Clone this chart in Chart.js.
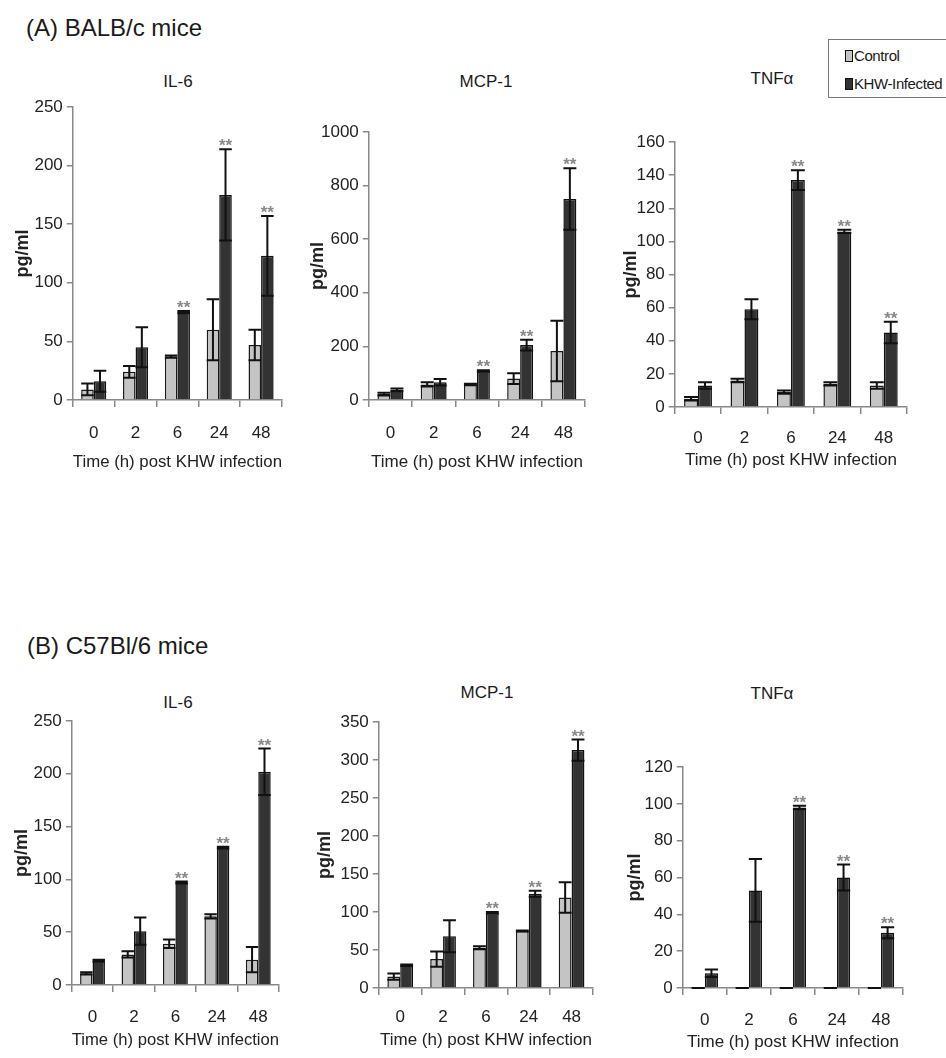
<!DOCTYPE html>
<html>
<head>
<meta charset="utf-8">
<script src="https://cdn.jsdelivr.net/npm/chart.js"></script>
<style>
  body { margin: 0; width: 946px; height: 1058px; position: relative; overflow: hidden; background: #fff; color: #1a1a1a;
         font-family: 'Liberation Sans Narrow', 'Arial Narrow', 'Liberation Sans', Arial, sans-serif; }
  canvas { position: absolute; }
  .head { position: absolute; font-family: 'Liberation Sans', Arial, sans-serif; font-size: 24px; transform: translateY(-50%); white-space: nowrap; }
  .ttl { position: absolute; font-size: 17px; transform: translate(-50%, -50%); white-space: nowrap; }
  #legend { position: absolute; left: 828px; top: 39px; width: 130px; height: 59px; border: 1px solid #777; box-sizing: border-box; font-size: 15px; letter-spacing: -0.4px; }
  #legend div { position: absolute; left: 16px; white-space: nowrap; line-height: 16px; }
  #legend span { display: inline-block; width: 6px; height: 10px; border: 1px solid #111; margin-right: 1px; vertical-align: -1px; }
</style>
</head>
<body>
<div class="head" style="left:26px;top:28px">(A) BALB/c mice</div>
<div class="head" style="left:27px;top:646px">(B) C57Bl/6 mice</div>

<div class="ttl" style="left:178px;top:82px">IL-6</div>
<div class="ttl" style="left:486px;top:82px">MCP-1</div>
<div class="ttl" style="left:772px;top:79px">TNFα</div>
<div class="ttl" style="left:178px;top:703px">IL-6</div>
<div class="ttl" style="left:487px;top:693px">MCP-1</div>
<div class="ttl" style="left:772px;top:694px">TNFα</div>

<div id="legend">
  <div style="top:8px"><span style="background:#c4c4c4"></span>Control</div>
  <div style="top:36px"><span style="background:#333"></span>KHW-Infected</div>
</div>

<script>
const times = ['0', '2', '6', '24', '48'];

// (A) BALB/c mice
const balbIl6Ctrl = [9, 24, 37, 60, 47];
const balbIl6CtrlErr = [5, 5, 1, 26, 13];
const balbIl6Khw = [16, 45, 75, 175, 123];
const balbIl6KhwErr = [9, 17, 1, 39, 34];

const balbMcpCtrl = [22, 58, 58, 80, 183];
const balbMcpCtrlErr = [5, 8, 3, 20, 113];
const balbMcpKhw = [38, 66, 108, 205, 750];
const balbMcpKhwErr = [5, 12, 3, 20, 115];

const balbTnfCtrl = [5, 16, 9, 14, 13];
const balbTnfCtrlErr = [1, 1, 1, 1, 2];
const balbTnfKhw = [13, 59, 137, 106, 45];
const balbTnfKhwErr = [2, 6, 6, 1, 6.5];

// (B) C57Bl/6 mice
const c57Il6Ctrl = [11, 29, 39, 65, 24];
const c57Il6CtrlErr = [1, 3, 4, 2, 12];
const c57Il6Khw = [23, 51, 97, 130, 202];
const c57Il6KhwErr = [1, 13, 1, 1, 22];

const c57McpCtrl = [15, 38, 53, 75, 119];
const c57McpCtrlErr = [4, 10, 2, 0.5, 20];
const c57McpKhw = [30, 68, 99, 124, 313];
const c57McpKhwErr = [1, 21, 1, 4, 14];

const c57TnfCtrl = [0, 0, 0, 0, 0];
const c57TnfCtrlErr = [0, 0, 0, 0, 0];
const c57TnfKhw = [8, 53, 98, 60, 30];
const c57TnfKhwErr = [2, 17, 1, 7, 3];

// ** = significant vs control
const significant = [0, 0, 1, 1, 1];

const yMax = { il6: 250, mcpA: 1000, tnfA: 160, mcpB: 350, tnfB: 120 };
const yStep = { il6: 50, mcpA: 200, tnfA: 20, mcpB: 50, tnfB: 20 };

const FONT = "'Liberation Sans Narrow', 'Arial Narrow', 'Liberation Sans', Arial, sans-serif";

// draws mean ± SD whiskers and the ** marks
const errorBars = {
  id: 'errorBars',
  afterDatasetsDraw(chart) {
    const ctx = chart.ctx;
    const y = chart.scales.y;
    ctx.save();
    chart.data.datasets.forEach((ds, i) => {
      chart.getDatasetMeta(i).data.forEach((bar, j) => {
        const v = ds.data[j], e = ds.errors[j];
        const hi = y.getPixelForValue(v + e);
        const lo = y.getPixelForValue(Math.max(0, v - e));
        const hw = bar.width / 2;
        ctx.strokeStyle = '#111';
        ctx.lineWidth = 2;
        ctx.beginPath();
        ctx.moveTo(bar.x, hi); ctx.lineTo(bar.x, lo);
        ctx.moveTo(bar.x - hw, hi); ctx.lineTo(bar.x + hw, hi);
        ctx.moveTo(bar.x - hw, lo); ctx.lineTo(bar.x + hw, lo);
        ctx.stroke();
        if (ds.sig && ds.sig[j]) {
          ctx.fillStyle = '#888';
          ctx.font = "bold 17px 'Liberation Sans', Arial, sans-serif";
          ctx.textAlign = 'center';
          ctx.textBaseline = 'bottom';
          ctx.fillText('**', bar.x, hi + 6);
        }
      });
    });
    ctx.restore();
  }
};

function makeChart(p) {
  const b = p.box;
  const left = b.yTitle - 10.8;
  const top = b.top - 20;
  const xH = b.xTitle - b.bottom + 11;
  const c = document.createElement('canvas');
  c.width = Math.round(b.right + 12 - left);
  c.height = Math.round(b.bottom + xH - top);
  c.style.left = left + 'px';
  c.style.top = top + 'px';
  document.body.appendChild(c);

  new Chart(c, {
    type: 'bar',
    data: {
      labels: times,
      datasets: [
        { label: 'Control', data: p.ctrl, errors: p.ctrlErr, backgroundColor: '#c4c4c4',
          borderColor: '#1a1a1a', borderWidth: 1.5, categoryPercentage: 0.6, barPercentage: 1 },
        { label: 'KHW-Infected', data: p.khw, errors: p.khwErr, sig: significant, backgroundColor: '#333',
          borderColor: '#111', borderWidth: 1.5, categoryPercentage: 0.6, barPercentage: 1 }
      ]
    },
    options: {
      responsive: false,
      animation: false,
      layout: { padding: { top: 20, right: 12, left: 0, bottom: 0 } },
      plugins: { legend: { display: false }, tooltip: { enabled: false } },
      scales: {
        x: {
          grid: { drawOnChartArea: false, color: '#888', lineWidth: 1.5, tickLength: 7, offset: true },
          border: { color: '#888', width: 1.5 },
          ticks: { font: { family: FONT, size: 17 }, color: '#222', padding: b.xTick - b.bottom - 17 },
          title: { display: true, text: 'Time (h) post KHW infection', font: { family: FONT, size: 17 },
                   color: '#222', padding: 0 },
          afterFit: s => { s.height = xH; }
        },
        y: {
          min: 0, max: p.max,
          ticks: { stepSize: p.step, font: { family: FONT, size: 17 }, color: '#222', padding: 4,
                   callback: v => String(v) },
          grid: { drawOnChartArea: false, color: '#888', lineWidth: 1.5, tickLength: 6 },
          border: { color: '#888', width: 1.5 },
          title: { display: true, text: 'pg/ml', font: { family: "'Liberation Sans', Arial, sans-serif", size: 18, weight: 'bold' },
                   color: '#222', padding: 0 },
          afterFit: s => { s.width = b.left - left; }
        }
      }
    },
    plugins: [errorBars]
  });
}

makeChart({ ctrl: balbIl6Ctrl, ctrlErr: balbIl6CtrlErr, khw: balbIl6Khw, khwErr: balbIl6KhwErr,
  max: yMax.il6, step: yStep.il6, box: { left: 73, right: 282, top: 107, bottom: 400, yTitle: 23, xTick: 433, xTitle: 462 } });
makeChart({ ctrl: balbMcpCtrl, ctrlErr: balbMcpCtrlErr, khw: balbMcpKhw, khwErr: balbMcpKhwErr,
  max: yMax.mcpA, step: yStep.mcpA, box: { left: 369, right: 585, top: 132, bottom: 400, yTitle: 318, xTick: 433, xTitle: 462 } });
makeChart({ ctrl: balbTnfCtrl, ctrlErr: balbTnfCtrlErr, khw: balbTnfKhw, khwErr: balbTnfKhwErr,
  max: yMax.tnfA, step: yStep.tnfA, box: { left: 675, right: 907, top: 142, bottom: 407, yTitle: 631, xTick: 438, xTitle: 460 } });
makeChart({ ctrl: c57Il6Ctrl, ctrlErr: c57Il6CtrlErr, khw: c57Il6Khw, khwErr: c57Il6KhwErr,
  max: yMax.il6, step: yStep.il6, box: { left: 72, right: 279, top: 721, bottom: 985, yTitle: 22, xTick: 1017, xTitle: 1040 } });
makeChart({ ctrl: c57McpCtrl, ctrlErr: c57McpCtrlErr, khw: c57McpKhw, khwErr: c57McpKhwErr,
  max: yMax.mcpB, step: yStep.mcpB, box: { left: 379, right: 593, top: 722, bottom: 988, yTitle: 325, xTick: 1017, xTitle: 1040 } });
makeChart({ ctrl: c57TnfCtrl, ctrlErr: c57TnfCtrlErr, khw: c57TnfKhw, khwErr: c57TnfKhwErr,
  max: yMax.tnfB, step: yStep.tnfB, box: { left: 683, right: 903, top: 767, bottom: 988, yTitle: 635, xTick: 1020, xTitle: 1042 } });
</script>
</body>
</html>
